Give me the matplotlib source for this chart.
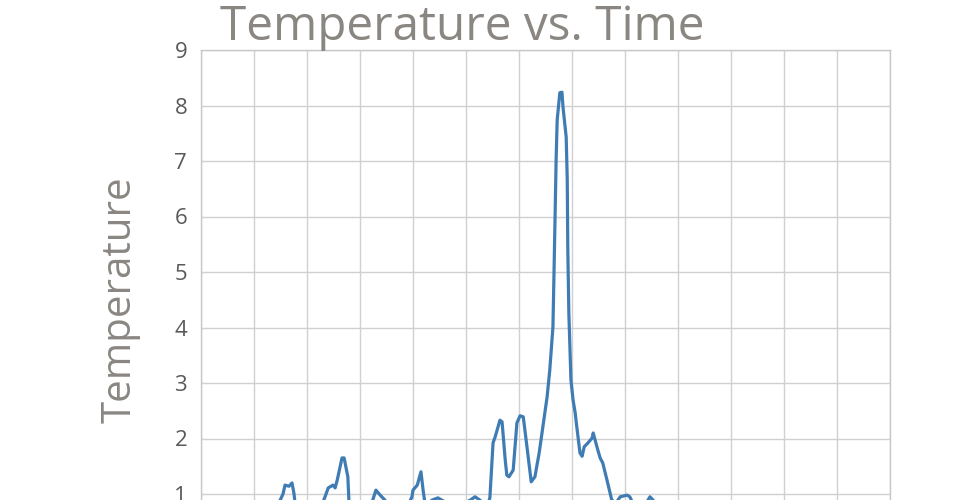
import matplotlib
matplotlib.use("Agg")
import matplotlib.pyplot as plt

plt.rcParams['font.family'] = ['Open Sans', 'DejaVu Sans']

# time (grid units) and temperature
time = [0.0, 0.55, 1.11, 1.45, 1.547, 1.585, 1.66, 1.717, 1.755, 1.81,
        2.06, 2.28, 2.34, 2.40, 2.49, 2.53, 2.57, 2.66, 2.70, 2.77,
        2.79, 2.85, 3.09, 3.21, 3.30, 3.38, 3.47, 3.60, 3.85, 3.98,
        4.00, 4.08, 4.15, 4.19, 4.23, 4.36, 4.47, 4.60, 4.89, 5.08,
        5.17, 5.26, 5.40, 5.45, 5.51, 5.55, 5.64, 5.68, 5.74, 5.77,
        5.81, 5.89, 5.96, 6.02, 6.08, 6.15, 6.23, 6.30, 6.38, 6.45,
        6.53, 6.58, 6.64, 6.66, 6.68, 6.70, 6.72, 6.77, 6.81, 6.83,
        6.89, 6.91, 6.92, 6.94, 6.98, 7.02, 7.06, 7.09, 7.15, 7.19,
        7.23, 7.30, 7.38, 7.40, 7.47, 7.53, 7.58, 7.66, 7.75, 7.83,
        7.91, 8.04, 8.09, 8.21, 8.38, 8.47, 8.53, 8.62, 9.42, 10.4,
        11.4, 12.3, 13.0]
temperature = [0.35, 0.53, 0.62, 0.80, 1.00, 1.16, 1.14, 1.20, 1.00, 0.53,
               0.62, 0.80, 0.95, 1.11, 1.16, 1.11, 1.25, 1.65, 1.65, 1.31,
               0.89, 0.53, 0.57, 0.80, 1.07, 0.98, 0.89, 0.62, 0.68, 0.95,
               1.07, 1.16, 1.40, 1.07, 0.80, 0.89, 0.93, 0.86, 0.80, 0.89,
               0.95, 0.89, 0.78, 0.93, 1.92, 2.03, 2.33, 2.30, 1.61, 1.34,
               1.31, 1.43, 2.28, 2.41, 2.39, 1.85, 1.22, 1.31, 1.74, 2.21,
               2.75, 3.23, 4.01, 4.98, 5.99, 7.02, 7.74, 8.23, 8.24, 7.97,
               7.43, 6.66, 5.45, 4.26, 3.05, 2.69, 2.46, 2.21, 1.74, 1.68,
               1.85, 1.92, 2.01, 2.10, 1.85, 1.65, 1.56, 1.25, 0.89, 0.84,
               0.95, 0.98, 0.95, 0.71, 0.80, 0.95, 0.89, 0.62, 0.53, 0.45,
               0.50, 0.45, 0.50]
y_ticks = list(range(0, 10))

fig = plt.figure(figsize=(9.6, 5), dpi=100)
# plot area runs past the bottom edge of the picture, as in the reference
ax = fig.add_axes([0.2094, -0.099, 0.7177, 0.999])

ax.plot(time, temperature, color='#3f7cb4', linewidth=2.3,
        solid_joinstyle='round', solid_capstyle='round')

ax.set_xlim(0, 13)
ax.set_ylim(0, 9)
ax.set_xticks(range(0, 14))
ax.set_yticks(y_ticks)
# the 0 label sits below the picture's edge anyway
ax.set_yticklabels([''] + [str(t) for t in y_ticks[1:]])
ax.grid(True, color='#d0d0d0', linewidth=1.0)
ax.set_axisbelow(True)
for s in ax.spines.values():
    s.set_color('#c8c8c8')
    s.set_linewidth(1.0)
ax.tick_params(length=0, labelsize=16, labelcolor='#595959', pad=10)
ax.set_xticklabels([])

ax.set_ylabel('Temperature', fontsize=29, color='#8a8682', labelpad=24)
fig.text(0.482, 1 - 40 / 500, 'Temperature vs. Time', fontsize=34.3,
         color='#8a8682', ha='center', va='baseline')

fig.savefig('out.png', dpi=100)
